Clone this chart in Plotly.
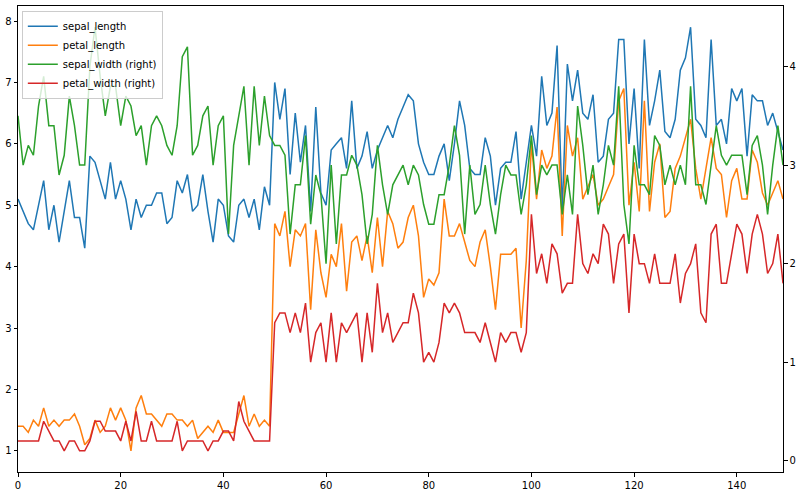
import plotly.graph_objects as go

sepal_length = [5.1,4.9,4.7,4.6,5.0,5.4,4.6,5.0,4.4,4.9,5.4,4.8,4.8,4.3,5.8,5.7,5.4,5.1,5.7,5.1,
5.4,5.1,4.6,5.1,4.8,5.0,5.0,5.2,5.2,4.7,4.8,5.4,5.2,5.5,4.9,5.0,5.5,4.9,4.4,5.1,
5.0,4.5,4.4,5.0,5.1,4.8,5.1,4.6,5.3,5.0,7.0,6.4,6.9,5.5,6.5,5.7,6.3,4.9,6.6,5.2,
5.0,5.9,6.0,6.1,5.6,6.7,5.6,5.8,6.2,5.6,5.9,6.1,6.3,6.1,6.4,6.6,6.8,6.7,6.0,5.7,
5.5,5.5,5.8,6.0,5.4,6.0,6.7,6.3,5.6,5.5,5.5,6.1,5.8,5.0,5.6,5.7,5.7,6.2,5.1,5.7,
6.3,5.8,7.1,6.3,6.5,7.6,4.9,7.3,6.7,7.2,6.5,6.4,6.8,5.7,5.8,6.4,6.5,7.7,7.7,6.0,
6.9,5.6,7.7,6.3,6.7,7.2,6.2,6.1,6.4,7.2,7.4,7.9,6.4,6.3,6.1,7.7,6.3,6.4,6.0,6.9,
6.7,6.9,5.8,6.8,6.7,6.7,6.3,6.5,6.2,5.9]
sepal_width = [3.5,3.0,3.2,3.1,3.6,3.9,3.4,3.4,2.9,3.1,3.7,3.4,3.0,3.0,4.0,4.4,3.9,3.5,3.8,3.8,
3.4,3.7,3.6,3.3,3.4,3.0,3.4,3.5,3.4,3.2,3.1,3.4,4.1,4.2,3.1,3.2,3.5,3.6,3.0,3.4,
3.5,2.3,3.2,3.5,3.8,3.0,3.8,3.2,3.7,3.3,3.2,3.2,3.1,2.3,2.8,2.8,3.3,2.4,2.9,2.7,
2.0,3.0,2.2,2.9,2.9,3.1,3.0,2.7,2.2,2.5,3.2,2.8,2.5,2.8,2.9,3.0,2.8,3.0,2.9,2.6,
2.4,2.4,2.7,2.7,3.0,3.4,3.1,2.3,3.0,2.5,2.6,3.0,2.6,2.3,2.7,3.0,2.9,2.9,2.5,2.8,
3.3,2.7,3.0,2.9,3.0,3.0,2.5,2.9,2.5,3.6,3.2,2.7,3.0,2.5,2.8,3.2,3.0,3.8,2.6,2.2,
3.2,2.8,2.8,2.7,3.3,3.2,2.8,3.0,2.8,3.0,2.8,3.8,2.8,2.8,2.6,3.0,3.4,3.1,3.0,3.1,
3.1,3.1,2.7,3.2,3.3,3.0,2.5,3.0,3.4,3.0]
petal_length = [1.4,1.4,1.3,1.5,1.4,1.7,1.4,1.5,1.4,1.5,1.5,1.6,1.4,1.1,1.2,1.5,1.3,1.4,1.7,1.5,
1.7,1.5,1.0,1.7,1.9,1.6,1.6,1.5,1.4,1.6,1.6,1.5,1.5,1.4,1.5,1.2,1.3,1.4,1.3,1.5,
1.3,1.3,1.3,1.6,1.9,1.4,1.6,1.4,1.5,1.4,4.7,4.5,4.9,4.0,4.6,4.5,4.7,3.3,4.6,3.9,
3.5,4.2,4.0,4.7,3.6,4.4,4.5,4.1,4.5,3.9,4.8,4.0,4.9,4.7,4.3,4.4,4.8,5.0,4.5,3.5,
3.8,3.7,3.9,5.1,4.5,4.5,4.7,4.4,4.1,4.0,4.4,4.6,4.0,3.3,4.2,4.2,4.2,4.3,3.0,4.1,
6.0,5.1,5.9,5.6,5.8,6.6,4.5,6.3,5.8,6.1,5.1,5.3,5.5,5.0,5.1,5.3,5.5,6.7,6.9,5.0,
5.7,4.9,6.7,4.9,5.7,6.0,4.8,4.9,5.6,5.8,6.1,6.4,5.6,5.1,5.6,6.1,5.6,5.5,4.8,5.4,
5.6,5.1,5.1,5.9,5.7,5.2,5.0,5.2,5.4,5.1]
petal_width = [0.2,0.2,0.2,0.2,0.2,0.4,0.3,0.2,0.2,0.1,0.2,0.2,0.1,0.1,0.2,0.4,0.4,0.3,0.3,0.3,
0.2,0.4,0.2,0.5,0.2,0.2,0.4,0.2,0.2,0.2,0.2,0.4,0.1,0.2,0.2,0.2,0.2,0.1,0.2,0.2,
0.3,0.3,0.2,0.6,0.4,0.3,0.2,0.2,0.2,0.2,1.4,1.5,1.5,1.3,1.5,1.3,1.6,1.0,1.3,1.4,
1.0,1.5,1.0,1.4,1.3,1.4,1.5,1.0,1.5,1.1,1.8,1.3,1.5,1.2,1.3,1.4,1.4,1.7,1.5,1.0,
1.1,1.0,1.2,1.6,1.5,1.6,1.5,1.3,1.3,1.3,1.2,1.4,1.2,1.0,1.3,1.2,1.3,1.3,1.1,1.3,
2.5,1.9,2.1,1.8,2.2,2.1,1.7,1.8,1.8,2.5,2.0,1.9,2.1,2.0,2.4,2.3,1.8,2.2,2.3,1.5,
2.3,2.0,2.0,1.8,2.1,1.8,1.8,1.8,2.1,1.6,1.9,2.0,2.2,1.5,1.4,2.3,2.4,1.8,1.8,2.1,
2.4,2.3,1.9,2.3,2.5,2.3,1.9,2.0,2.3,1.8]
index = list(range(len(sepal_length)))

left_ticks = [1, 2, 3, 4, 5, 6, 7, 8]
right_ticks = [0, 1, 2, 3, 4]
x_ticks = [0, 20, 40, 60, 80, 100, 120, 140]

fig = go.Figure()
lw = 1.5
fig.add_trace(go.Scatter(x=index, y=sepal_length, name="sepal_length", mode="lines",
                         line=dict(color="#1f77b4", width=lw), yaxis="y"))
fig.add_trace(go.Scatter(x=index, y=petal_length, name="petal_length", mode="lines",
                         line=dict(color="#ff7f0e", width=lw), yaxis="y"))
fig.add_trace(go.Scatter(x=index, y=sepal_width, name="sepal_width (right)", mode="lines",
                         line=dict(color="#2ca02c", width=lw), yaxis="y2"))
fig.add_trace(go.Scatter(x=index, y=petal_width, name="petal_width (right)", mode="lines",
                         line=dict(color="#d62728", width=lw), yaxis="y2"))

axis_common = dict(showgrid=False, zeroline=False, showline=True, linecolor="black",
                   linewidth=1, ticks="outside", ticklen=3.5, tickwidth=0.8,
                   tickcolor="black", automargin=False,
                   tickfont=dict(size=10, color="black", family="DejaVu Sans"))

fig.update_layout(
    width=800, height=493,
    margin=dict(l=18, r=17, t=6, b=21, autoexpand=False),
    plot_bgcolor="white", paper_bgcolor="white",
    showlegend=True,
    legend=dict(x=0.005, y=0.99, xanchor="left", yanchor="top",
                bgcolor="rgba(255,255,255,0.8)", bordercolor="#cccccc", borderwidth=1,
                font=dict(size=10, family="DejaVu Sans", color="black"),
                tracegroupgap=0, itemwidth=30),
    xaxis=dict(range=[0, 149], tickvals=x_ticks, mirror=True, **axis_common),
    yaxis=dict(range=[0.655, 8.245], tickvals=left_ticks, **axis_common),
    yaxis2=dict(range=[-0.115, 4.615], tickvals=right_ticks, overlaying="y",
                side="right", **axis_common),
)

fig.write_html("out.html", config={"displayModeBar": False},
               post_script="document.body.style.margin='0px';")
